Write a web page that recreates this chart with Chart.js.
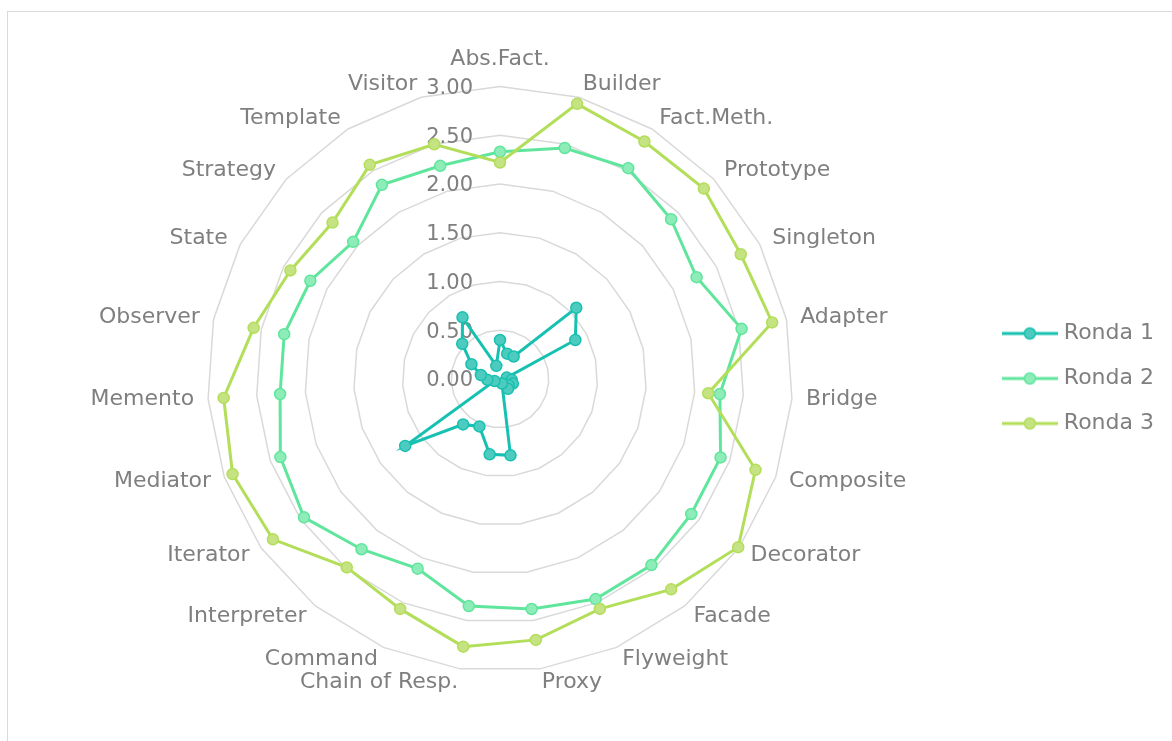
<!DOCTYPE html>
<html>
<head>
<meta charset="utf-8">
<script src="https://cdn.jsdelivr.net/npm/chart.js@4"></script>
<style>
  html, body { margin: 0; padding: 0; background: #fff; }
  #wrap { position: relative; width: 1172px; height: 741px; overflow: hidden; }
  #frame { position: absolute; left: 7px; top: 11px; width: 1200px; height: 800px; border: 1.5px solid #d9d9d9; }
  #chart { position: absolute; left: 0; top: 0; }
</style>
</head>
<body>
<div id="wrap">
  <div id="frame"></div>
  <canvas id="chart" width="1172" height="741"></canvas>
</div>
<script>
const patterns = ["Abs.Fact.", "Builder", "Fact.Meth.", "Prototype", "Singleton", "Adapter", "Bridge",
  "Composite", "Decorator", "Facade", "Flyweight", "Proxy", "Chain of Resp.", "Command",
  "Interpreter", "Iterator", "Mediator", "Memento", "Observer", "State", "Strategy", "Template", "Visitor"];

const ronda1 = [0.40, 0.27, 0.27, 1.07, 0.87, 0.07, 0.12, 0.14, 0.11, 0.13, 0.05, 0.79,
  0.78, 0.53, 0.60, 1.19, 0.06, 0.13, 0.20, 0.33, 0.53, 0.74, 0.14];
const ronda2 = [2.33, 2.46, 2.53, 2.40, 2.27, 2.53, 2.26, 2.40, 2.40, 2.46, 2.46, 2.38,
  2.35, 2.12, 2.25, 2.46, 2.39, 2.26, 2.26, 2.19, 2.06, 2.33, 2.27];
const ronda3 = [2.22, 2.93, 2.85, 2.86, 2.78, 2.85, 2.14, 2.78, 2.99, 2.78, 2.57, 2.70,
  2.77, 2.57, 2.49, 2.85, 2.91, 2.84, 2.58, 2.42, 2.35, 2.57, 2.50];

const seriesNames = ["Ronda 1", "Ronda 2", "Ronda 3"];
const lineColors = ["#17c1b1", "#5fe69c", "#b3de5a"];
const dotColors = ["#4ecbbf", "#8eecb9", "#c6e383"];

const FONT = "'DejaVu Sans', sans-serif";
const GREY = "#7f7f7f";

// little line + marker sample for the legend
function legendIcon(line, fill) {
  const c = document.createElement("canvas");
  c.width = 56;
  c.height = 16;
  const g = c.getContext("2d");
  g.strokeStyle = line;
  g.lineWidth = 3;
  g.beginPath();
  g.moveTo(0, 8);
  g.lineTo(56, 8);
  g.stroke();
  g.fillStyle = fill;
  g.lineWidth = 1.5;
  g.beginPath();
  g.arc(28, 8, 5.5, 0, Math.PI * 2);
  g.fill();
  g.stroke();
  return c;
}

// value labels sit to the left of the top spoke, under the lines
const tickLabels = {
  id: "tickLabels",
  beforeDatasetsDraw(chart) {
    const s = chart.scales.r;
    const ctx = chart.ctx;
    ctx.save();
    ctx.font = "21px " + FONT;
    ctx.fillStyle = GREY;
    ctx.textAlign = "right";
    ctx.textBaseline = "middle";
    s.ticks.forEach(t => {
      const d = s.getDistanceFromCenterForValue(t.value);
      ctx.fillText(t.value.toFixed(2), s.xCenter - 27, s.yCenter - d + 2);
    });
    ctx.restore();
  }
};

const datasets = [ronda1, ronda2, ronda3].map((vals, i) => ({
  label: seriesNames[i],
  data: vals,
  borderColor: lineColors[i],
  backgroundColor: "transparent",
  fill: false,
  borderWidth: 3,
  pointRadius: 5.5,
  pointBorderWidth: 1.5,
  pointBackgroundColor: dotColors[i],
  pointBorderColor: lineColors[i],
  order: 2 - i
}));

new Chart(document.getElementById("chart"), {
  type: "radar",
  data: { labels: patterns, datasets },
  plugins: [tickLabels],
  options: {
    responsive: false,
    animation: false,
    events: [],
    layout: { padding: { left: 17, right: 8, top: 45, bottom: 29 } },
    plugins: {
      tooltip: { enabled: false },
      legend: {
        position: "right",
        labels: {
          usePointStyle: true,
          pointStyleWidth: 46,
          padding: 23,
          color: GREY,
          font: { family: FONT, size: 22 },
          generateLabels(chart) {
            return chart.data.datasets.map((ds, i) => ({
              text: ds.label,
              fontColor: GREY,
              pointStyle: legendIcon(lineColors[i], dotColors[i]),
              datasetIndex: i,
              lineWidth: 0,
              strokeStyle: "transparent",
              fillStyle: "transparent"
            }));
          }
        }
      }
    },
    scales: {
      r: {
        min: 0,
        max: 3,
        ticks: { stepSize: 0.5, display: false },
        grid: { circular: false, color: "#d9d9d9", lineWidth: 1.5 },
        angleLines: { display: false },
        pointLabels: {
          color: GREY,
          padding: 14,
          font: { family: FONT, size: 22 }
        },
        // centre the category names on their spokes instead of sitting above/below them
        afterFit(scale) {
          (scale._pointLabelItems || []).forEach((it, i) => {
            if (i === 0) return;
            const deg = scale.getIndexAngle(i) * 180 / Math.PI;
            const dy = (deg < 90 || deg > 270) ? 14 : (deg > 90 && deg < 270 ? -14 : 0);
            it.y += dy;
            it.top += dy;
            it.bottom += dy;
          });
        }
      }
    }
  }
});
</script>
</body>
</html>
